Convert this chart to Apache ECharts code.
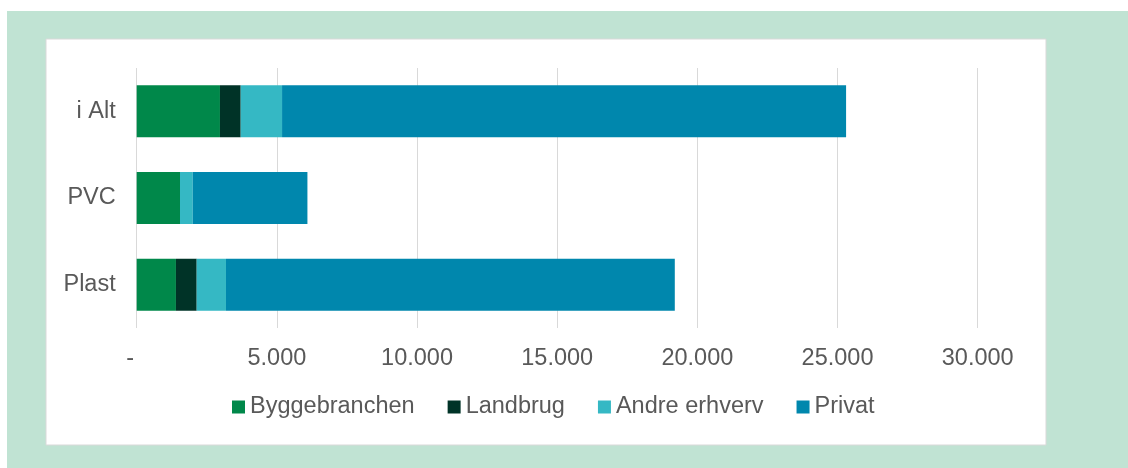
<!DOCTYPE html>
<html>
<head>
<meta charset="utf-8">
<script src="https://cdn.jsdelivr.net/npm/echarts@6/dist/echarts.min.js"></script>
<style>
  html, body { margin: 0; padding: 0; background: #fff; }
  #chart { width: 1128px; height: 468px; }
</style>
</head>
<body>
<div id="chart"></div>
<script>
// kategorier nedefra og op
const categories = ['Plast', 'PVC', 'i Alt']
const seriesNames = ['Byggebranchen', 'Landbrug', 'Andre erhverv', 'Privat']
const byggebranchen = [1400, 1545, 2970]
const landbrug = [740, 0, 740]
const andreErhverv = [1045, 455, 1475]
const privat = [16010, 4090, 20120]
const xTicks = [0, 5000, 10000, 15000, 20000, 25000, 30000]

const colors = ['#00884a', '#003327', '#35b8c4', '#0087ad']
const values = [byggebranchen, landbrug, andreErhverv, privat]

// Excel-agtigt regnskabsformat: 0 vises som "-"
const fmt = (v) => (v === 0 ? '-  ' : String(v).replace(/\B(?=(\d{3})+(?!\d))/g, '.'))

const chart = echarts.init(document.getElementById('chart'))
chart.setOption({
  animation: false,
  textStyle: { fontFamily: 'Liberation Sans, Arial, sans-serif' },
  graphic: [
    { type: 'rect', shape: { x: 7, y: 11, width: 1121, height: 457 }, style: { fill: '#c0e3d3' }, z: -10 },
    { type: 'rect', shape: { x: 46, y: 39, width: 1000, height: 406 }, style: { fill: '#fff', stroke: '#d9d9d9', lineWidth: 1 }, z: -9 }
  ],
  grid: { left: 136.7, right: 150.3, top: 68, height: 260, containLabel: false },
  xAxis: {
    type: 'value',
    min: xTicks[0],
    max: xTicks[xTicks.length - 1],
    interval: 5000,
    axisLine: { show: false },
    axisTick: { show: false },
    splitLine: { lineStyle: { color: '#d9d9d9', width: 1 } },
    axisLabel: { color: '#595959', fontSize: 23.5, margin: 19, formatter: fmt }
  },
  yAxis: {
    type: 'category',
    data: categories,
    axisLine: { show: false },
    axisTick: { show: false },
    axisLabel: { color: '#595959', fontSize: 23.5, margin: 21 }
  },
  legend: {
    data: seriesNames,
    left: 227,
    top: 390,
    itemWidth: 13,
    itemHeight: 13,
    itemGap: 33,
    icon: 'rect',
    textStyle: { color: '#595959', fontSize: 23.5 }
  },
  series: seriesNames.map((name, i) => ({
    name,
    type: 'bar',
    stack: 'total',
    barWidth: '60%',
    itemStyle: { color: colors[i] },
    data: values[i]
  }))
})
</script>
</body>
</html>
